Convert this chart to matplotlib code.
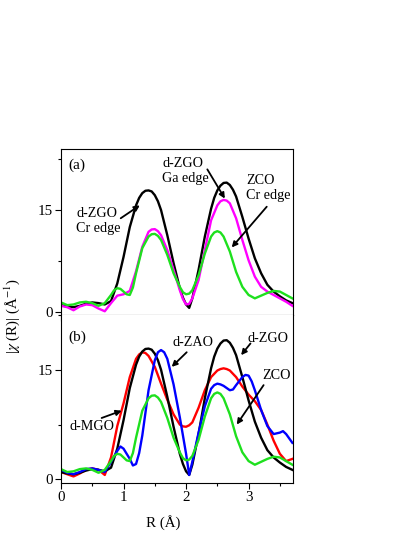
import matplotlib
matplotlib.use("Agg")
import matplotlib.pyplot as plt

plt.rcParams['font.family'] = ['Liberation Serif', 'DejaVu Serif']
plt.rcParams['mathtext.fontset'] = 'stix'

# ---- data (R in Angstrom, |chi(R)|) ----
# d-ZGO, Cr edge (black)
x_zgo = [0, 0.1, 0.2, 0.3, 0.4, 0.5, 0.6, 0.7, 0.8, 0.9, 1.0, 1.1, 1.2, 1.25, 1.3, 1.35, 1.4, 1.45, 1.5, 1.55,
         1.6, 1.7, 1.8, 1.9, 1.95, 2.0, 2.05, 2.1, 2.2, 2.3, 2.4, 2.45, 2.5, 2.55, 2.6, 2.65, 2.7, 2.75, 2.8,
         2.9, 3.0, 3.1, 3.2, 3.3, 3.4, 3.5, 3.6, 3.7]
y_zgo = [1.0, 0.8, 0.7, 0.9, 1.2, 1.4, 1.3, 1.1, 1.6, 4.2, 8.1, 12.5, 15.7, 16.8, 17.5, 17.85, 17.9, 17.75, 17.2, 16.3,
         15.0, 11.3, 7.2, 3.5, 2.1, 1.1, 0.6, 2.0, 6.2, 11.1, 15.2, 16.8, 17.9, 18.6, 19.0, 19.05, 18.7, 18.0, 17.0,
         14.0, 10.8, 7.9, 5.7, 4.0, 3.0, 2.3, 1.7, 1.3]

# d-ZGO, Ga edge (magenta)
x_ga = [0, 0.1, 0.2, 0.3, 0.4, 0.5, 0.6, 0.7, 0.8, 0.9, 1.0, 1.1, 1.2, 1.3, 1.4, 1.45, 1.5, 1.55, 1.6, 1.7,
        1.8, 1.9, 1.95, 2.0, 2.05, 2.1, 2.2, 2.3, 2.4, 2.5, 2.55, 2.6, 2.65, 2.7, 2.8, 2.9, 3.0, 3.1, 3.2,
        3.3, 3.4, 3.5, 3.6, 3.7]
y_ga = [0.9, 0.7, 0.25, 0.8, 1.1, 1.0, 0.5, 0.1, 1.3, 2.4, 2.6, 3.1, 6.0, 9.6, 11.8, 12.15, 12.2, 11.9, 11.3, 9.1,
        6.2, 3.2, 1.9, 1.1, 1.2, 2.0, 4.7, 9.1, 13.5, 15.7, 16.3, 16.5, 16.4, 16.0, 13.8, 10.6, 7.6, 5.2, 3.7,
        3.0, 2.5, 2.0, 1.5, 0.9]

# ZCO, Cr edge (green)
x_zco = [0, 0.1, 0.2, 0.3, 0.4, 0.5, 0.6, 0.7, 0.8, 0.85, 0.9, 0.95, 1.0, 1.05, 1.1, 1.15, 1.2, 1.3, 1.4, 1.45,
         1.5, 1.55, 1.6, 1.7, 1.8, 1.9, 1.95, 2.0, 2.05, 2.1, 2.2, 2.3, 2.4, 2.45, 2.5, 2.55, 2.6, 2.7, 2.8,
         2.9, 3.0, 3.1, 3.2, 3.3, 3.4, 3.5, 3.6, 3.7]
y_zco = [1.4, 1.0, 1.1, 1.4, 1.5, 1.3, 0.9, 1.3, 2.5, 3.2, 3.5, 3.4, 3.0, 2.6, 2.5, 3.6, 5.7, 9.4, 11.1, 11.45,
         11.5, 11.2, 10.6, 8.4, 5.7, 3.7, 2.9, 2.6, 2.7, 3.2, 5.4, 8.6, 11.1, 11.7, 11.9, 11.7, 11.1, 8.9, 5.9,
         3.7, 2.5, 2.0, 2.4, 2.8, 3.1, 3.0, 2.5, 2.0]

# d-MGO (red)
x_mgo = [0, 0.1, 0.2, 0.3, 0.4, 0.5, 0.6, 0.7, 0.8, 0.9, 1.0, 1.1, 1.2, 1.25, 1.3, 1.35, 1.4, 1.5, 1.6, 1.7,
         1.8, 1.9, 1.95, 2.0, 2.05, 2.1, 2.2, 2.3, 2.4, 2.5, 2.55, 2.6, 2.65, 2.7, 2.8, 2.9, 3.0, 3.1, 3.2,
         3.3, 3.4, 3.5, 3.6, 3.7]
y_mgo = [1.0, 0.7, 0.4, 0.8, 1.3, 1.5, 1.3, 0.6, 3.0, 7.3, 10.4, 14.0, 16.5, 17.1, 17.4, 17.3, 16.9, 15.4, 13.1, 10.9,
         8.9, 7.5, 7.25, 7.2, 7.4, 7.8, 9.8, 12.2, 14.0, 14.9, 15.1, 15.2, 15.1, 14.9, 14.0, 12.7, 11.6, 10.7, 9.5,
         7.5, 5.3, 3.5, 2.5, 2.8]

# d-ZAO (blue)
x_zao = [0, 0.1, 0.2, 0.3, 0.4, 0.5, 0.6, 0.7, 0.8, 0.9, 0.95, 1.0, 1.1, 1.15, 1.2, 1.25, 1.3, 1.4, 1.5, 1.55,
         1.6, 1.65, 1.7, 1.8, 1.9, 1.95, 2.0, 2.05, 2.1, 2.2, 2.3, 2.4, 2.45, 2.5, 2.55, 2.6, 2.7, 2.75, 2.8,
         2.9, 2.95, 3.0, 3.05, 3.1, 3.2, 3.3, 3.4, 3.5, 3.55, 3.6, 3.7]
y_zao = [1.3, 0.9, 0.7, 1.0, 1.4, 1.5, 1.3, 1.0, 2.4, 3.9, 4.5, 4.2, 2.8, 1.9, 2.1, 3.6, 6.0, 12.2, 16.3, 17.4,
         17.7, 17.4, 16.5, 13.0, 8.5, 6.0, 3.5, 0.6, 2.4, 6.4, 10.0, 12.4, 12.9, 13.1, 13.0, 12.8, 12.2, 12.3, 12.9,
         14.0, 14.3, 14.2, 13.4, 12.2, 9.5, 7.3, 6.2, 6.4, 6.6, 6.2, 5.0]

W, H = 415, 537
fig = plt.figure(figsize=(W / 100, H / 100), dpi=100)

def fx(px):
    return px / W

def fy(py):
    return 1 - py / H

left, right = fx(61), fx(293)
ax_a = fig.add_axes([left, fy(315), right - left, fy(149) - fy(315)])
ax_b = fig.add_axes([left, fy(483), right - left, fy(315) - fy(483)])

LW = 1.7
GREEN = '#1ee01e'
kw = dict(lw=LW, solid_joinstyle='round')
ax_a.plot(x_zgo, y_zgo, color='black', **kw)
ax_a.plot(x_ga, y_ga, color='#ff00ff', **kw)
ax_a.plot(x_zco, y_zco, color=GREEN, **kw)

ax_b.plot(x_mgo, y_mgo, color='#ff0000', **kw)
ax_b.plot(x_zgo, y_zgo, color='black', **kw)
ax_b.plot(x_zao, y_zao, color='#0000ff', **kw)
ax_b.plot(x_zco, y_zco, color=GREEN, **kw)

ax_a.set_ylim(-0.45, 24.0)
ax_b.set_ylim(-0.5, 22.1)
FS = 10.2
TFS = 10.8
for ax in (ax_a, ax_b):
    ax.set_xlim(0, 3.71)
    ax.set_xticks([0, 1, 2, 3])
    ax.set_xticks([0.5, 1.5, 2.5, 3.5], minor=True)
    ax.set_yticks([0, 15])
    ax.set_yticks([7.5, 22.5], minor=True)
    ax.tick_params(which='major', direction='out', length=4, width=0.8, labelsize=TFS, pad=2)
    ax.tick_params(which='minor', direction='out', length=2.5, width=0.8)
    for s in ax.spines.values():
        s.set_linewidth(0.8)
ax_a.tick_params(axis='x', labelbottom=False)
ax_b.spines['top'].set_visible(False)

arr = dict(arrowstyle='-|>', color='black', lw=1.3, mutation_scale=8, shrinkA=0, shrinkB=0)

def note(ax, text, txy, tail, head):
    ax.text(txy[0], txy[1], text, fontsize=FS, ha='left', va='center', linespacing=1.2)
    ax.annotate('', xy=head, xytext=tail, arrowprops=arr)

ax_a.text(0.11, 21.6, '(a)', fontsize=FS + 0.8, ha='left', va='center')
note(ax_a, 'd-ZGO\nCr edge', (0.24, 13.4), (0.955, 13.8), (1.26, 15.7))
note(ax_a, 'd-ZGO\nGa edge', (1.62, 20.8), (2.34, 21.0), (2.62, 16.7))
note(ax_a, 'ZCO\nCr edge', (2.96, 18.3), (3.29, 15.5), (2.73, 9.5))

ax_b.text(0.11, 19.5, '(b)', fontsize=FS + 0.8, ha='left', va='center')
note(ax_b, 'd-ZAO', (1.78, 18.7), (2.01, 17.4), (1.77, 15.4))
note(ax_b, 'd-ZGO', (2.99, 19.3), (3.03, 18.6), (2.88, 17.0))
note(ax_b, 'ZCO', (3.22, 14.2), (3.24, 12.9), (2.81, 7.5))
note(ax_b, 'd-MGO', (0.13, 7.3), (0.65, 8.4), (0.97, 9.4))

fig.text(fx(163), fy(523), 'R (Å)', fontsize=TFS, ha='center', va='center')
fig.text(fx(12), fy(316), r'|$\chi$ (R)| (Å$^{-1}$)', fontsize=TFS, ha='center', va='center',
         rotation=90)

fig.savefig('out.png', dpi=100)
